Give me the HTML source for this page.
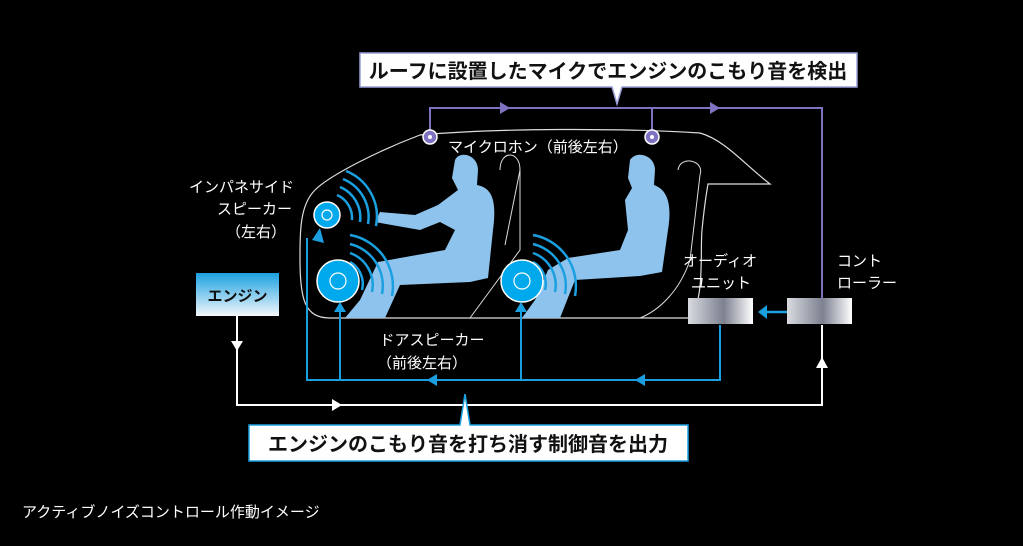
<!DOCTYPE html>
<html><head><meta charset="utf-8"><style>
html,body{margin:0;padding:0;background:#000;}
body{width:1023px;height:546px;overflow:hidden;position:relative;font-family:"Liberation Sans","Noto Sans CJK JP",sans-serif;}
svg{position:absolute;left:0;top:0}
</style></head><body>
<svg width="1023" height="546" viewBox="0 0 1023 546" font-family="Liberation Sans, Noto Sans CJK JP, sans-serif">
<defs>
<linearGradient id="eng" x1="0" y1="0" x2="0" y2="1"><stop offset="0" stop-color="#1aa0e0"/><stop offset="1" stop-color="#f4f8fc"/></linearGradient>
<linearGradient id="box" x1="0" y1="0" x2="1" y2="0"><stop offset="0" stop-color="#d8dbe0"/><stop offset="0.55" stop-color="#7d8190"/><stop offset="1" stop-color="#ffffff"/></linearGradient>
</defs>
<path d="M330,318 L690,318 C705,300 700,250 702,230 C704,210 706,195 708,184 L770,184 C745,165 725,140 700,133 C620,128 500,128 420,135 C380,150 330,175 315,190 C300,205 300,230 300,260 C300,300 305,318 330,318 Z" fill="none" stroke="#ddd" stroke-width="1.2"/>
<path d="M500,170 C500,150 520,150 520,170 L520,250 L470,318 M520,170 L505,245" fill="none" stroke="#ddd" stroke-width="1"/>
<path d="M678,170 C680,155 705,160 700,175 L690,260 C680,290 660,310 640,318" fill="none" stroke="#ddd" stroke-width="1"/>
<g fill="#8dc3ec">
<path d="M455,160 C460,150 478,155 478,170 L477,185 C492,188 497,200 493,230 L488,278 L470,282 L400,285 L385,318 L345,318 L360,300 L378,262 L400,258 L445,250 L455,230 L440,222 L420,230 L375,222 L380,212 L415,215 L438,205 L458,190 L452,178 Z"/>
<path d="M630,160 C636,150 655,155 655,170 L654,185 C668,190 672,205 668,230 L662,272 L640,276 L575,280 L560,318 L522,318 L535,300 L548,270 L568,258 L620,250 L628,230 L625,200 L632,188 L628,178 Z"/>
</g>
<g fill="none" stroke="#1aa0e0" stroke-width="2.5">
<path d="M337,195 A25,25 0 0 1 352,220"/><path d="M340,187 A33,33 0 0 1 360,222"/><path d="M343,179 A41,41 0 0 1 368,224"/><path d="M346,171 A49,49 0 0 1 376,226"/>
<path d="M350,262 A25,25 0 0 1 362,290"/><path d="M350,253 A34,34 0 0 1 372,292"/><path d="M350,244 A43,43 0 0 1 382,294"/><path d="M350,235 A52,52 0 0 1 392,296"/>
<path d="M533,262 A25,25 0 0 1 545,290"/><path d="M533,253 A34,34 0 0 1 555,292"/><path d="M533,244 A43,43 0 0 1 565,294"/><path d="M533,235 A52,52 0 0 1 575,296"/>
</g>
<g stroke="#fff">
<circle cx="327" cy="215" r="13" fill="#00a8ec" stroke-width="1.5"/><circle cx="327" cy="215" r="5" fill="none" stroke-width="1.2"/>
<circle cx="338" cy="281" r="21" fill="#00a8ec" stroke-width="1.5"/><circle cx="338" cy="281" r="8" fill="none" stroke-width="1.2"/>
<circle cx="522" cy="281" r="21" fill="#00a8ec" stroke-width="1.5"/><circle cx="522" cy="281" r="8" fill="none" stroke-width="1.2"/>
</g>
<g stroke="#7f72c0" stroke-width="2" fill="none">
<path d="M430,130 L430,108 L822,108 L822,305"/><path d="M652,130 L652,108"/>
</g>
<g fill="#7f72c0"><path d="M500,102 L510,108 L500,114Z"/><path d="M710,102 L720,108 L710,114Z"/><path d="M816,300 L822,311 L828,300Z"/></g>
<circle cx="430" cy="137" r="7" fill="#7f72c0" stroke="#fff" stroke-width="1.5"/><circle cx="430" cy="137" r="2" fill="#fff"/>
<circle cx="652" cy="137" r="7" fill="#7f72c0" stroke="#fff" stroke-width="1.5"/><circle cx="652" cy="137" r="2" fill="#fff"/>
<path d="M237,316 L237,405 L822,405 L822,325" stroke="#fff" stroke-width="2" fill="none"/>
<g fill="#fff"><path d="M231,341 L237,351 L243,341Z"/><path d="M332,399 L342,405 L332,411Z"/><path d="M816,368 L822,357 L828,368Z"/></g>
<path d="M720,325 L720,380 L307,380 L307,238 M340,380 L340,310 M521,380 L521,310" stroke="#1aa0e0" stroke-width="2" fill="none"/>
<path d="M787,312 L765,312" stroke="#1aa0e0" stroke-width="2.5"/>
<g fill="#1aa0e0"><path d="M767,305 L758,312 L767,319Z"/><path d="M437,374 L427,380 L437,386Z"/><path d="M645,374 L635,380 L645,386Z"/><path d="M312,240 L320,228 L324,243Z"/><path d="M334,312 L340,302 L346,312Z"/><path d="M515,312 L521,302 L527,312Z"/></g>
<rect x="196" y="273" width="83" height="43" fill="url(#eng)"/>
<text x="237.5" y="301" font-size="15" font-weight="bold" text-anchor="middle" fill="#111">エンジン</text>
<rect x="688" y="298" width="65" height="26" fill="url(#box)"/>
<rect x="787" y="298" width="65" height="26" fill="url(#box)"/>
<path d="M360,53 L857,53 L857,87 L622,87 L617,104 L612,87 L360,87 Z" fill="#fff" stroke="#9aa0d8" stroke-width="1.5"/>
<text x="608" y="78" font-size="20" font-weight="bold" text-anchor="middle" fill="#111">ルーフに設置したマイクでエンジンのこもり音を検出</text>
<path d="M249,425 L460,425 L465,394 L470,425 L688,425 L688,461 L249,461 Z" fill="#fff" stroke="#1aa0e0" stroke-width="1.5"/>
<text x="468" y="451" font-size="20" font-weight="bold" text-anchor="middle" fill="#111">エンジンのこもり音を打ち消す制御音を出力</text>
<g fill="#fff" font-size="15">
<text x="448" y="152">マイクロホン（前後左右）</text>
<text x="294" y="192" text-anchor="end">インパネサイド</text>
<text x="292" y="214" text-anchor="end">スピーカー</text>
<text x="286" y="237" text-anchor="end">（左右）</text>
<text x="432" y="345" text-anchor="middle">ドアスピーカー</text>
<text x="422" y="368" text-anchor="middle">（前後左右）</text>
<text x="720" y="266" text-anchor="middle">オーディオ</text>
<text x="721" y="288" text-anchor="middle">ユニット</text>
<text x="837" y="266">コント</text>
<text x="837" y="288">ローラー</text>
<text x="22" y="517" font-size="15">アクティブノイズコントロール作動イメージ</text>
</g>
</svg>
</body></html>
